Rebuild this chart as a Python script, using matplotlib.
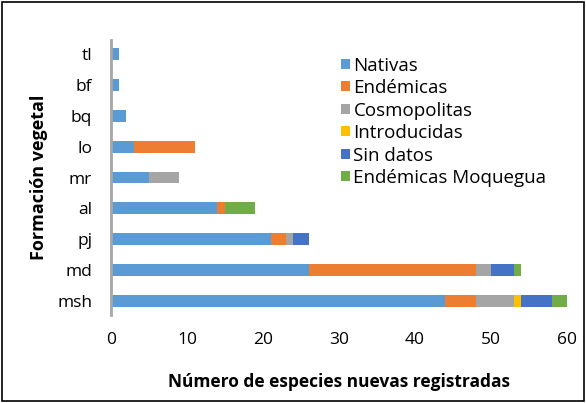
import numpy as np
import matplotlib.pyplot as plt

# categories bottom to top
formaciones = ['msh', 'md', 'pj', 'al', 'mr', 'lo', 'bq', 'bf', 'tl']
series = ['Nativas', 'Endémicas', 'Cosmopolitas', 'Introducidas', 'Sin datos', 'Endémicas Moquegua']
colores = ['#5B9BD5', '#ED7D31', '#A5A5A5', '#FFC000', '#4472C4', '#70AD47']

nativas      = [44, 26, 21, 14, 5, 3, 2, 1, 1]
endemicas    = [4, 22, 2, 1, 0, 8, 0, 0, 0]
cosmopolitas = [5, 2, 1, 0, 4, 0, 0, 0, 0]
introducidas = [1, 0, 0, 0, 0, 0, 0, 0, 0]
sin_datos    = [4, 3, 2, 0, 0, 0, 0, 0, 0]
end_moquegua = [2, 1, 0, 4, 0, 0, 0, 0, 0]
valores = [nativas, endemicas, cosmopolitas, introducidas, sin_datos, end_moquegua]

plt.rcParams['font.family'] = ['Open Sans', 'DejaVu Sans']

fig = plt.figure(figsize=(5.86, 4.03), dpi=100)
ax = fig.add_axes([0.1894, 0.2184, 0.7782, 0.6823])

y = np.arange(len(formaciones))
left = np.zeros(len(formaciones))
for nombre, col, vals in zip(series, colores, valores):
    vals = np.array(vals, dtype=float)
    ax.barh(y, vals, left=left, height=0.39, color=col, label=nombre)
    left += vals

ax.set_xlim(0, 60)
ax.set_ylim(-0.47, 8.47)
ax.set_xticks(range(0, 61, 10))
ax.set_yticks(y)
ax.set_yticklabels(formaciones)
ax.tick_params(axis='both', length=0, labelsize=12.5)
ax.tick_params(axis='x', pad=12.5)
ax.tick_params(axis='y', pad=13.5)
for s in ['top', 'right', 'bottom']:
    ax.spines[s].set_visible(False)
ax.spines['left'].set_color('#A6A6A6')
ax.spines['left'].set_linewidth(2)

ax.set_xlabel('Número de especies nuevas registradas', fontsize=12.5, fontweight='bold', labelpad=18)
ax.set_ylabel('Formación vegetal', fontsize=13, fontweight='bold', labelpad=7)

ax.legend(loc='upper left', bbox_to_anchor=(0.505, 0.94), frameon=False, fontsize=13.5,
          handlelength=0.45, handleheight=0.45, handletextpad=0.2, labelspacing=0.24,
          borderaxespad=0, borderpad=0)

fig.patches.append(plt.Rectangle((0.003, 0.004), 0.994, 0.992, transform=fig.transFigure,
                                 fill=False, edgecolor='black', linewidth=1.2))

fig.savefig('out.png', dpi=100)
